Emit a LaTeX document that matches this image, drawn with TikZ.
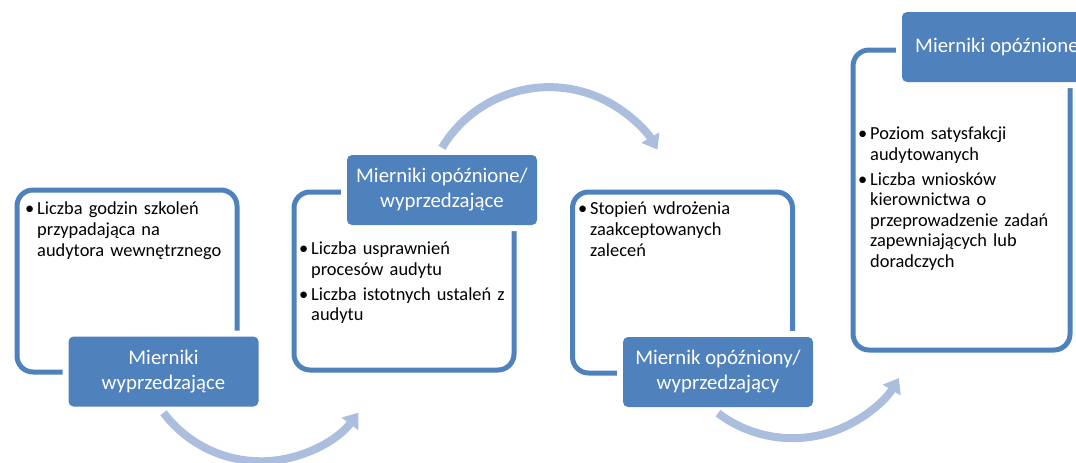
\documentclass[tikz,border=0pt]{standalone}
\usepackage{fontspec}
\setmainfont{Carlito}
\usetikzlibrary{calc,arrows.meta}
\tikzset{>=stealth}
\definecolor{niebieski}{RGB}{79,129,189}
\definecolor{jasny}{RGB}{172,190,222}
\newcommand*{\pkt}[1]{\parskip=4pt\hangindent=12pt\hangafter=1\noindent\hbox to 12pt{\textbullet\hfil}#1\par}
\tikzset{
  ramka/.style={draw=niebieski,line width=5pt,rounded corners=16pt,minimum width=220pt},
  naglowek/.style={fill=niebieski,rounded corners=5pt,text=white,align=center,
    minimum width=190pt,minimum height=70pt,inner sep=0pt,
    font=\fontsize{20.8}{25}\selectfont,preaction={draw=white,line width=12pt}},
  punkty/.style={anchor=north west,inner sep=0pt,text width=210pt,
    font=\fontsize{18.4}{20.6}\selectfont\raggedright},
  luk/.style={draw=jasny,line width=8pt,-{Triangle[width=20pt,length=14pt]}}
}

\begin{document}
\begin{tikzpicture}[x=1pt,y=1pt]
\useasboundingbox (0,0) rectangle (1076,-463);
\clip (0,0) rectangle (1076,-463);
\node[ramka,minimum height=182pt] (r1) at (127,-281) {};
\node[ramka,minimum height=178pt] (r2) at (404,-281) {};
\node[ramka,minimum height=181pt] (r3) at (682.5,-282.5) {};
\node[ramka,minimum width=217pt,minimum height=300pt] (r4) at (961.5,-200) {};
\node[naglowek] (n1) at (163.5,-371.5) {Mierniki\\wyprzedzające};
\node[naglowek] (n2) at (442,-190) {Mierniki opóźnione/\\wyprzedzające};
\node[naglowek] (n3) at (718,-372) {Miernik opóźniony/\\wyprzedzający};
\node[naglowek] (n4) at (997,-47) {Mierniki opóźnione};
\node[punkty] (t1) at (25,-202) {\pkt{Liczba godzin szkoleń\newline przypadająca na\newline audytora wewnętrznego}};
\node[punkty] (t2) at (299,-242) {\pkt{Liczba usprawnień\newline procesów audytu}\pkt{Liczba istotnych ustaleń z\newline audytu}};
\node[punkty] (t3) at (578,-202) {\pkt{Stopień wdrożenia\newline zaakceptowanych\newline zaleceń}};
\node[punkty] (t4) at (858,-127) {\pkt{Poziom satysfakcji\newline audytowanych}\pkt{Liczba wniosków\newline kierownictwa o\newline przeprowadzenie zadań\newline zapewniających lub\newline doradczych}};
\coordinate (s1) at ($(n1.south)+(0,-6)$);
\coordinate (s2) at ($(n2.north)+(0,7)$);
\coordinate (s3) at ($(n3.south)+(0,-6)$);
\draw[luk] (s1) arc (217:323:122);
\draw[luk] (s2) arc (149:30:125);
\draw[luk] (s3) arc (233:329:124);
\end{tikzpicture}
\end{document}
